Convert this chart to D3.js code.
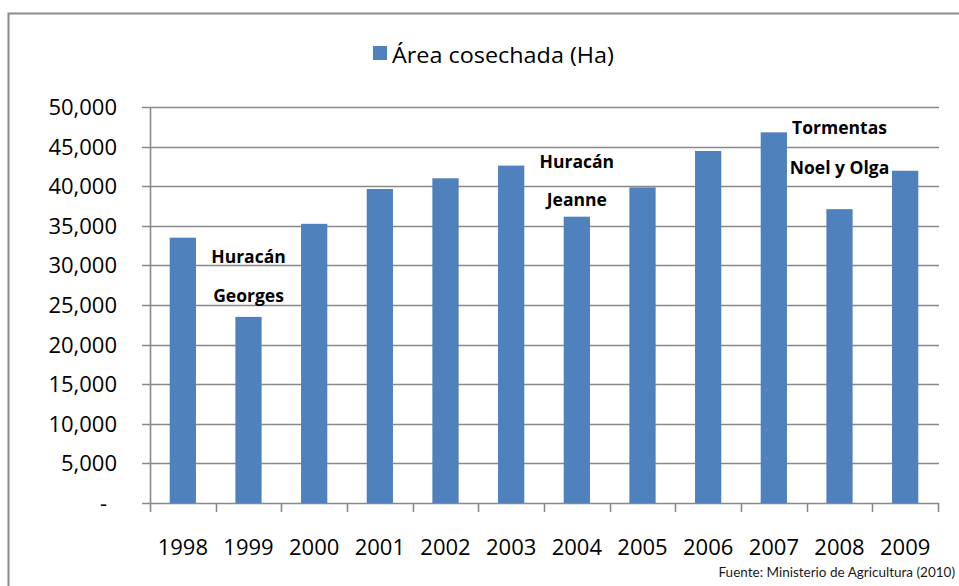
<!DOCTYPE html>
<html>
<head>
<meta charset="utf-8">
<script src="https://cdn.jsdelivr.net/npm/d3@7"></script>
<style>
  html, body { margin: 0; padding: 0; background: #fff; }
  svg { display: block; font-family: "Open Sans", sans-serif; }
</style>
</head>
<body>
<svg id="chart" width="959" height="586"></svg>
<script>
// ---- Data ----
const years = ["1998","1999","2000","2001","2002","2003","2004","2005","2006","2007","2008","2009"];
const areaHa = [33500, 23500, 35250, 39650, 41000, 42600, 36150, 39850, 44450, 46800, 37100, 41950];
const yTicks = [0, 5000, 10000, 15000, 20000, 25000, 30000, 35000, 40000, 45000, 50000];
const seriesName = "Área cosechada (Ha)";
const sourceNote = "Fuente: Ministerio de Agricultura (2010)";
// annotations: text, category it is centered on, value of its vertical position
const noteTexts = ["Huracán", "Georges", "Huracán", "Jeanne", "Tormentas", "Noel y Olga"];
const noteYears = ["1999", "1999", "2004", "2004", "2008", "2008"];
const noteValues = [31100, 26150, 43100, 38250, 47400, 42350];

(function () {
// ---- Layout ----
const svg = d3.select("#chart");
const pLeft = 150, pRight = 938, pTop = 107, pBottom = 503;
const barColor = "#4f81bd";
const gridColor = "#898989";

// outer frame
svg.append("path")
  .attr("d", "M8.5,586 L8.5,13.5 L959,13.5")
  .attr("fill", "none").attr("stroke", "#8c8c8c").attr("stroke-width", 2);

const x = d3.scaleBand().domain(years).range([pLeft, pRight]).paddingInner(0).paddingOuter(0);
const y = d3.scaleLinear().domain([0, 50000]).range([pBottom, pTop]);

// gridlines
svg.append("g").selectAll("line").data(yTicks).join("line")
  .attr("x1", pLeft - 8).attr("x2", pRight + 1)
  .attr("y1", d => Math.round(y(d)) + 0.5).attr("y2", d => Math.round(y(d)) + 0.5)
  .attr("stroke", gridColor).attr("stroke-width", 1.6);

// y axis labels
const fmt = d3.format(",");
svg.append("g").selectAll("text").data(yTicks).join("text")
  .attr("x", d => d === 0 ? 107 : 117)
  .attr("y", d => y(d))
  .attr("dy", "0.36em")
  .attr("text-anchor", "end")
  .attr("font-size", 22)
  .attr("fill", "#000")
  .text(d => d === 0 ? "-" : fmt(d));

// bars
svg.append("g").selectAll("rect").data(years).join("rect")
  .attr("x", d => x(d) + x.bandwidth() * 0.3)
  .attr("width", x.bandwidth() * 0.4)
  .attr("y", (d, i) => y(areaHa[i]))
  .attr("height", (d, i) => y(0) - y(areaHa[i]))
  .attr("fill", barColor);

// y axis line
svg.append("line")
  .attr("x1", pLeft + 0.5).attr("x2", pLeft + 0.5)
  .attr("y1", pTop).attr("y2", pBottom + 9)
  .attr("stroke", gridColor).attr("stroke-width", 1.6);

// x tick marks at category boundaries
const boundaries = years.map(d => x(d)).concat([pRight]);
svg.append("g").selectAll("line").data(boundaries.slice(1)).join("line")
  .attr("x1", d => Math.round(d) + 0.5).attr("x2", d => Math.round(d) + 0.5)
  .attr("y1", pBottom).attr("y2", pBottom + 9)
  .attr("stroke", gridColor).attr("stroke-width", 1.6);

// x labels
svg.append("g").selectAll("text").data(years).join("text")
  .attr("x", d => x(d) + x.bandwidth() / 2)
  .attr("y", 555)
  .attr("text-anchor", "middle")
  .attr("font-size", 22)
  .attr("fill", "#000")
  .text(d => d);

// annotations
svg.append("g").selectAll("text").data(noteTexts).join("text")
  .attr("x", (d, i) => x(noteYears[i]) + x.bandwidth() / 2)
  .attr("y", (d, i) => y(noteValues[i]))
  .attr("dy", "0.36em")
  .attr("text-anchor", "middle")
  .attr("font-size", 17.5)
  .attr("font-weight", "bold")
  .attr("fill", "#000")
  .text(d => d);

// legend
svg.append("rect").attr("x", 373).attr("y", 46).attr("width", 14).attr("height", 14).attr("fill", barColor);
svg.append("text").attr("x", 392).attr("y", 63).attr("font-size", 22).attr("fill", "#000")
  .attr("textLength", 222).attr("lengthAdjust", "spacingAndGlyphs").text(seriesName);

// source
svg.append("text").attr("x", 955).attr("y", 577).attr("text-anchor", "end")
  .attr("font-family", "Lato, sans-serif").attr("font-size", 13.5).attr("fill", "#1a1a1a")
  .text(sourceNote);
})();
</script>
</body>
</html>
